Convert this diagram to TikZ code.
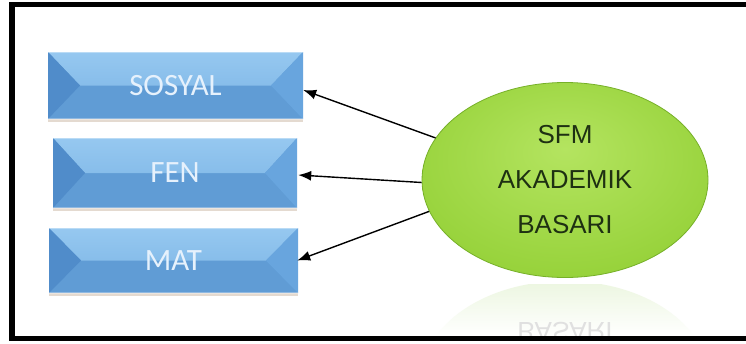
\documentclass[tikz,border=0pt]{standalone}
\usepackage{fontspec}
\usetikzlibrary{arrows.meta,shapes.geometric,shadows,calc}
\newfontfamily\boxfont{Carlito}
\newfontfamily\ellfont{Liberation Sans}

\definecolor{boxbase}{RGB}{96,156,213}
\definecolor{boxtopA}{RGB}{150,200,240}
\definecolor{boxtopB}{RGB}{120,178,228}
\definecolor{boxleft}{RGB}{80,140,202}
\definecolor{boxright}{RGB}{104,165,222}
\definecolor{boxtext}{RGB}{230,241,252}
\definecolor{ellA}{RGB}{180,228,96}
\definecolor{ellB}{RGB}{152,211,60}
\definecolor{ellC}{RGB}{128,190,42}
\definecolor{ellline}{RGB}{118,176,40}
\definecolor{elltext}{RGB}{30,48,18}
\definecolor{reflA}{RGB}{236,246,224}

\pgfdeclareradialshading{ellshade}{\pgfpoint{0bp}{8bp}}{%
  color(0bp)=(ellA); color(28bp)=(ellB); color(48bp)=(ellC); color(60bp)=(ellC)}

\tikzset{
  bevelbox/.style={
    rectangle, inner sep=0pt, fill=boxbase,
    text=boxtext, font=\boxfont\fontsize{31}{33}\selectfont,
    drop shadow={shadow xshift=0pt, shadow yshift=-3pt, opacity=0.22, fill=brown!70!black},
    path picture={
      % upper bevel face
      \shade[top color=boxtopA, bottom color=boxtopB]
        (path picture bounding box.north west) -- (path picture bounding box.north east)
        -- ([xshift=-32pt]path picture bounding box.east)
        -- ([xshift=32pt]path picture bounding box.west) -- cycle;
      % side bevel faces
      \fill[boxleft]
        (path picture bounding box.north west)
        -- ([xshift=32pt]path picture bounding box.west)
        -- (path picture bounding box.south west) -- cycle;
      \fill[boxright]
        (path picture bounding box.north east)
        -- ([xshift=-32pt]path picture bounding box.east)
        -- (path picture bounding box.south east) -- cycle;
      % light rim along top and bottom
      \draw[white, opacity=0.35, line width=1.2pt]
        (path picture bounding box.north west) -- (path picture bounding box.north east);
      \draw[white, opacity=0.3, line width=1.2pt]
        (path picture bounding box.south west) -- (path picture bounding box.south east);
    }
  },
  goal/.style={
    ellipse, inner sep=0pt, minimum width=286pt, minimum height=195pt,
    shading=ellshade, draw=ellline, line width=0.8pt,
    text=elltext, align=center, font=\ellfont\fontsize{26}{45}\selectfont
  },
  link/.style={-{Latex[length=13pt,width=10pt]}, line width=1.4pt, black}
}

\begin{document}
\begin{tikzpicture}[x=1pt,y=-1pt]
  \useasboundingbox (0,0) rectangle (746,343);
  \clip (0,0) rectangle (746,343);
  \fill[white] (0,0) rectangle (746,343);

  % faded mirror image under the ellipse
  \begin{scope}
    \clip (14,284) rectangle (760,336);
    \begin{scope}
      \clip (565,378) ellipse [x radius=143, y radius=97];
      \shade[top color=reflA, bottom color=white] (420,281) rectangle (710,336);
    \end{scope}
    \node[font=\ellfont\fontsize{26}{30}\selectfont, text=black!12, yscale=-1]
      at (565,331) {BASARI};
  \end{scope}

  % outer frame, open past the right edge
  \draw[line width=5.5pt] (12,4.5) rectangle (780,338.5);

  % subject boxes
  \node[bevelbox, minimum width=255pt, minimum height=67pt] (sos) at (175.5,85.5) {SOSYAL};
  \node[bevelbox, minimum width=244pt, minimum height=70pt] (fen) at (175,173) {FEN};
  \node[bevelbox, minimum width=249pt, minimum height=65pt] (mat) at (173.5,260.5) {MAT};

  % central ellipse
  \node[goal] (ell) at (565,180) {SFM\\AKADEMIK\\BASARI};

  % arrows from the ellipse to the boxes
  \draw[link] (ell.162) -- ([yshift=-4.5pt]sos.east);
  \draw[link] (ell.181) -- ([yshift=-2pt,xshift=1pt]fen.east);
  \draw[link] (ell.193) -- ([xshift=-1pt]mat.east);
\end{tikzpicture}
\end{document}
